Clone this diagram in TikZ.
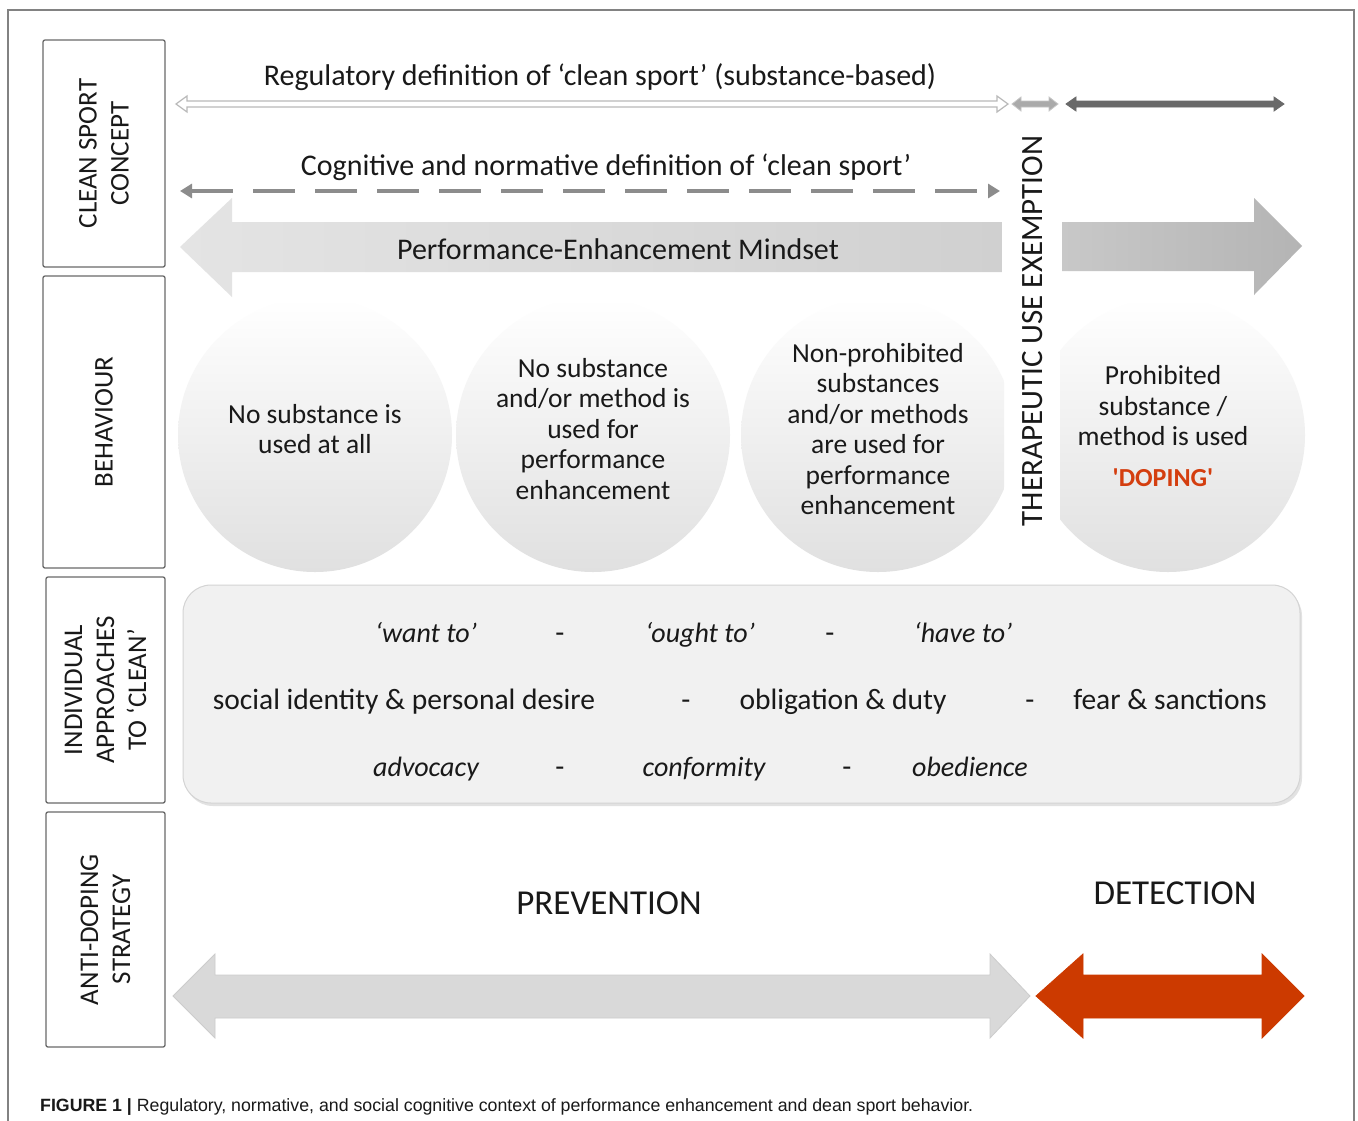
\documentclass[tikz,border=0pt]{standalone}
\usepackage{fontspec}
\setmainfont{Carlito}
\newfontfamily\capfont{Liberation Sans}
\newfontfamily\dopefont[Ligatures=TeXOff]{Carlito}
\usetikzlibrary{arrows.meta,shadows}
\definecolor{txt}{RGB}{25,25,25}
\definecolor{framegray}{RGB}{130,130,130}
\definecolor{boxgray}{RGB}{105,105,105}
\definecolor{dashgray}{RGB}{140,140,140}
\definecolor{pemleft}{RGB}{228,228,228}
\definecolor{pemright}{RGB}{208,208,208}
\definecolor{rarrowA}{RGB}{200,200,200}
\definecolor{rarrowB}{RGB}{180,180,180}
\definecolor{tuegray}{RGB}{170,170,170}
\definecolor{darkarrow}{RGB}{105,105,105}
\definecolor{panelfill}{RGB}{241,241,241}
\definecolor{paneledge}{RGB}{212,212,212}
\definecolor{prevgray}{RGB}{217,217,217}
\definecolor{dopred}{RGB}{204,58,0}
\definecolor{dopetext}{RGB}{212,62,15}
\definecolor{circbot}{RGB}{224,224,224}
\begin{document}
\begin{tikzpicture}[x=1pt,y=-1pt,
  every node/.style={text=txt, inner sep=0pt},
  lbl/.style={draw=boxgray, line width=1.3pt, rounded corners=2pt, rotate=90, align=center,
    font=\fontsize{27}{32}\selectfont, fill=white},
  headtxt/.style={font=\fontsize{30}{32}\selectfont},
  body/.style={font=\fontsize{27.5}{30.5}\selectfont, align=center},
  row/.style={font=\fontsize{29.5}{30}\selectfont, anchor=base},
  irow/.style={font=\fontsize{28}{30}\selectfont\itshape, anchor=base},
  circ/.style={top color=white, middle color=white, bottom color=circbot},
  bigtxt/.style={font=\fontsize{35}{38}\selectfont},
]
\useasboundingbox (0,0) rectangle (1358,1120);
\clip (0,0) rectangle (1358,1120);
\fill[white] (0,0) rectangle (1358,1120);
% outer frame
\draw[framegray, line width=1.2pt] (8,1140) -- (8,10) -- (1354,10) -- (1354,1140);

% row labels
\node[lbl, minimum width=227pt, minimum height=122pt] (lab1) at (104,153.5) {CLEAN SPORT\\CONCEPT};
\node[lbl, minimum width=292pt, minimum height=122pt] (lab2) at (104,422) {BEHAVIOUR};
\node[lbl, minimum width=226pt, minimum height=119pt] (lab3) at (105.5,690) {INDIVIDUAL\\APPROACHES\\TO ‘CLEAN’};
\node[lbl, minimum width=235pt, minimum height=119pt] (lab4) at (105.5,929.5) {ANTI-DOPING\\STRATEGY};

% regulatory definition
\node[headtxt] (reg) at (600,77) {Regulatory definition of ‘clean sport’ (substance-based)};
\draw[fill=white, draw=gray!55, line width=1.2pt, line join=miter]
  (176,104) -- (187,96) -- (187,101) -- (997,101) -- (997,96) -- (1008,104)
  -- (997,112) -- (997,107) -- (187,107) -- (187,112) -- cycle;
\draw[fill=tuegray, draw=gray!45, line width=0.8pt]
  (1012,104) -- (1021,97) -- (1021,101) -- (1049,101) -- (1049,97) -- (1058,104)
  -- (1049,111) -- (1049,107) -- (1021,107) -- (1021,111) -- cycle;
\draw[fill=darkarrow, draw=darkarrow, line width=0.8pt]
  (1066,104) -- (1076,97) -- (1076,101) -- (1274,101) -- (1274,97) -- (1284,104)
  -- (1274,111) -- (1274,107) -- (1076,107) -- (1076,111) -- cycle;

% cognitive and normative definition
\node[headtxt] (cog) at (606,167) {Cognitive and normative definition of ‘clean sport’};
\coordinate (dl) at (180,191);
\coordinate (dr) at (1000,191);
\draw[dashgray, line width=4pt, dash pattern=on 42pt off 20pt,
  {Triangle[length=12pt,width=14pt]}-{Triangle[length=12pt,width=14pt]}] (dl) -- (dr);

% performance-enhancement mindset
\shade[left color=pemleft, right color=pemright]
  (180,247) -- (232,198) -- (232,222) -- (1002,222) -- (1002,272) -- (232,272) -- (232,297) -- cycle;
\shade[left color=rarrowA, right color=rarrowB]
  (1062,222) -- (1254,222) -- (1254,198) -- (1302,246) -- (1254,295) -- (1254,271) -- (1062,271) -- cycle;
\node[headtxt] (pem) at (618,249) {Performance-Enhancement Mindset};

% TUE
\node[rotate=90, font=\fontsize{31}{31}\selectfont] (tue) at (1033,331) {THERAPEUTIC USE EXEMPTION};

% behaviour circles
\shade[circ] (315,435) circle (137pt);
\shade[circ] (593,435) circle (137pt);
\begin{scope}
  \clip (700,280) rectangle (1004,580);
  \shade[circ] (878,435) circle (137pt);
\end{scope}
\begin{scope}
  \clip (1060,280) rectangle (1350,580);
  \shade[circ] (1168,435) circle (137pt);
\end{scope}
\node[body] (b1) at (315,429) {No substance is\\used at all};
\node[body] (b2) at (593,429) {No substance\\and/or method is\\used for\\performance\\enhancement};
\node[body] (b3) at (878,429) {Non-prohibited\\substances\\and/or methods\\are used for\\performance\\enhancement};
\node[body] (b4) at (1163,406) {Prohibited\\substance /\\method is used};
\node[font=\dopefont\fontsize{26}{30}\selectfont\bfseries, text=dopetext] (dop) at (1163,478) {'DOPING'};

% individual approaches panel
\node[draw=paneledge, line width=1pt, fill=panelfill, rounded corners=28pt,
  minimum width=1117pt, minimum height=218pt,
  drop shadow={shadow xshift=2pt, shadow yshift=-3pt, fill=gray!45, opacity=0.5}] (panel) at (741.5,694) {};
\node[irow] (w1) at (426,642) {‘want to’};
\node[row] (d11) at (560,642) {-};
\node[irow] (w2) at (700,642) {‘ought to’};
\node[row] (d12) at (830,642) {-};
\node[irow] (w3) at (963,642) {‘have to’};
\node[row] (s1) at (404,709) {social identity \& personal desire};
\node[row] (d21) at (686,709) {-};
\node[row] (s2) at (843,709) {obligation \& duty};
\node[row] (d22) at (1030,709) {-};
\node[row] (s3) at (1170,709) {fear \& sanctions};
\node[irow] (a1) at (426,776) {advocacy};
\node[row] (d31) at (560,776) {-};
\node[irow] (a2) at (704,776) {conformity};
\node[row] (d32) at (847,776) {-};
\node[irow] (a3) at (970,776) {obedience};

% anti-doping strategy
\node[bigtxt] (prev) at (609,903) {PREVENTION};
\node[bigtxt] (det) at (1175,893) {DETECTION};
\draw[fill=prevgray, draw=gray!40, line width=0.8pt]
  (173,996) -- (215,954) -- (215,975) -- (990,975) -- (990,954) -- (1030,996)
  -- (990,1038) -- (990,1018) -- (215,1018) -- (215,1038) -- cycle;
\draw[fill=dopred, draw=dopred, line width=0.8pt]
  (1036,996) -- (1083,954) -- (1083,975) -- (1262,975) -- (1262,954) -- (1304,996)
  -- (1262,1038) -- (1262,1018) -- (1083,1018) -- (1083,1038) -- cycle;

% caption
\node[anchor=base west, font=\capfont\fontsize{17.75}{20}\selectfont] (cap) at (40,1111)
  {\textbf{FIGURE 1 |} Regulatory, normative, and social cognitive context of performance enhancement and dean sport behavior.};
\end{tikzpicture}
\end{document}
